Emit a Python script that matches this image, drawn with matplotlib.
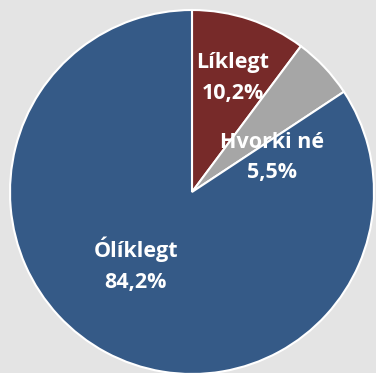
import matplotlib
matplotlib.use("Agg")
import matplotlib.pyplot as plt

# Survey answers (share of respondents, %)
labels = ["Líklegt", "Hvorki né", "Ólíklegt"]
values = [10.2, 5.5, 84.2]
colors = ["#772a29", "#a6a6a6", "#355a87"]

# label placement (x, y in data units, pie radius = 1)
label_pos = [(0.225, 0.625), (0.44, 0.19), (-0.31, -0.40)]

fig = plt.figure(figsize=(3.76, 3.73), dpi=100, facecolor="#e4e4e4")
ax = fig.add_axes([10 / 376, -1 / 373, 364 / 376, 364 / 373])
ax.set_facecolor("#e4e4e4")

wedges, _ = ax.pie(values, colors=colors, startangle=90, counterclock=False,
                   wedgeprops=dict(edgecolor="white", linewidth=1.5))

for w in wedges:
    w.set_clip_on(False)

for lab, v, (x, y) in zip(labels, values, label_pos):
    txt = f"{lab}\n{v:.1f}%".replace(".", ",")
    ax.text(x, y, txt, ha="center", va="center", color="white",
            fontsize=15.5, fontweight="bold", family="Open Sans", linespacing=1.6)

ax.set_xlim(-1, 1)
ax.set_ylim(-1, 1)
ax.set_aspect("equal")
ax.axis("off")

fig.savefig("out.png", dpi=100, facecolor=fig.get_facecolor())
